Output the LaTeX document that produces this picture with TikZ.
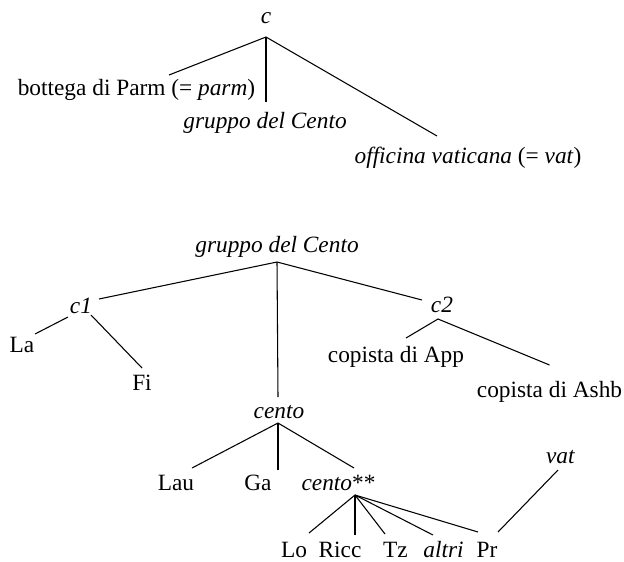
\documentclass[tikz,border=0pt]{standalone}
\usepackage{fontspec}
\setmainfont{Liberation Serif}
\usepackage{tikz}
\usetikzlibrary{calc}

\tikzset{lbl/.style={anchor=base,inner sep=0pt,font=\fontsize{17.5}{20}\selectfont},
         branch/.style={line width=0.8pt}}

\begin{document}
\begin{tikzpicture}[x=0.75pt,y=-0.75pt]
\useasboundingbox (0,0) rectangle (624,561);
%% upper tree
\node[lbl] (c)     at (266,23)  {\textit{c}};
\node[lbl] (parm)  at (136.5,95) {bottega di Parm (= \textit{parm})};
\node[lbl] (grpA)  at (265,128) {\textit{gruppo del Cento}};
\node[lbl] (offvat) at (468,163) {\textit{officina vaticana} (= \textit{vat})};

\draw[branch] ($(parm.base)+(32.5,-20)$) -- ($(c.base)+(0,14)$) -- ($(offvat.base)+(-31,-27)$);
\draw[branch] ($(c.base)+(0,14)$) -- ($(grpA.base)+(1,-26)$);

%% lower tree
\node[lbl] (grpB)  at (277,252) {\textit{gruppo del Cento}};
\node[lbl] (cI)    at (81,313)  {\textit{c1}};
\node[lbl] (cII)   at (442,312) {\textit{c2}};
\node[lbl] (La)    at (22,352)  {La};
\node[lbl] (Fi)    at (142,390) {Fi};
\node[lbl] (App)   at (396,362) {copista di App};
\node[lbl] (Ashb)  at (549.5,397) {copista di Ashb};
\node[lbl] (cento) at (279,418) {\textit{cento}};
\node[lbl] (Lau)   at (176,490) {Lau};
\node[lbl] (Ga)    at (258,490) {Ga};
\node[lbl] (cstar) at (338.5,490) {\textit{cento}**};
\node[lbl] (vat)   at (560.5,463) {\textit{vat}};
\node[lbl] (Lo)    at (294,557) {Lo};
\node[lbl] (Ricc)  at (340,557) {Ricc};
\node[lbl] (Tz)    at (395.5,557) {Tz};
\node[lbl] (altri) at (443.5,557) {\textit{altri}};
\node[lbl] (Pr)    at (487,557) {Pr};

\draw[branch] ($(cI.base)+(18,-14)$) -- ($(grpB.base)+(0,10)$) -- ($(cII.base)+(-20,-12)$);
\draw[branch] ($(grpB.base)+(0,10)$) -- ($(cento.base)+(-1,-21)$);
\draw[branch] ($(La.base)+(13,-18)$) -- ($(cI.base)+(-13,4)$);
\draw[branch] ($(cI.base)+(10,2)$) -- ($(Fi.base)+(0,-22)$);
\draw[branch] ($(App.base)+(10,-24)$) -- ($(cII.base)+(-4,7)$) -- ($(Ashb.base)+(0,-32)$);

\draw[branch] ($(Lau.base)+(16,-22)$) -- ($(cento.base)+(-1,5)$) -- ($(cstar.base)+(15.5,-22)$);
\draw[branch] ($(cento.base)+(-1,5)$) -- ($(Ga.base)+(20,-20)$);

\draw[branch] ($(cstar.base)+(16.5,5)$) -- ($(Lo.base)+(15,-24)$);
\draw[branch] ($(cstar.base)+(16.5,5)$) -- ($(Ricc.base)+(15,-22)$);
\draw[branch] ($(cstar.base)+(16.5,5)$) -- ($(Tz.base)+(-10.5,-23)$);
\draw[branch] ($(cstar.base)+(16.5,5)$) -- ($(altri.base)+(-10.5,-22)$);
\draw[branch] ($(cstar.base)+(16.5,5)$) -- ($(Pr.base)+(-9,-25)$);
\draw[branch] ($(vat.base)+(-2.5,7)$) -- ($(Pr.base)+(11,-25)$);
\end{tikzpicture}
\end{document}
